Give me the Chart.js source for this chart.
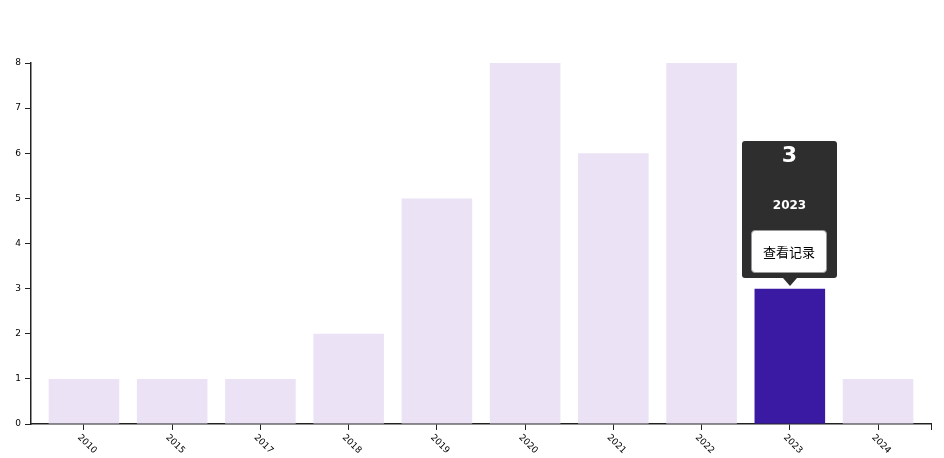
<!DOCTYPE html>
<html>
<head>
<meta charset="utf-8">
<script src="https://cdn.jsdelivr.net/npm/chart.js@4.4.0/dist/chart.umd.min.js"></script>
<style>
  body { margin: 0; background: #fff; }
  .wrap { position: relative; width: 944px; height: 458px; }
  .tip {
    position: absolute; width: 95px; height: 137px; background: #2e2e2e; border-radius: 3px;
    color: #fff; text-align: center; font-family: "DejaVu Sans", "Noto Sans CJK SC", sans-serif;
  }
  .tip .val { position: absolute; left: 0; right: 0; top: 0; font-size: 22px; font-weight: bold; line-height: 28px; }
  .tip .year { position: absolute; left: 0; right: 0; top: 57px; font-size: 12px; font-weight: bold; }
  .tip .btn {
    position: absolute; left: 9px; top: 89px; width: 74px; height: 41px; background: #fff;
    border: 1px solid #999; border-radius: 4px; color: #000; font-size: 13px; line-height: 41px;
    font-family: "Noto Sans CJK SC", sans-serif;
  }
  .tip:after {
    content: ""; position: absolute; left: 50%; bottom: -8px; margin-left: -7px;
    border-left: 7px solid transparent; border-right: 7px solid transparent; border-top: 8px solid #2e2e2e;
  }
</style>
</head>
<body>
<div class="wrap">
  <canvas id="myGraph" width="944" height="458"></canvas>
  <div class="tip" id="tip"><div class="val" id="tipVal"></div><div class="year" id="tipYear"></div><div class="btn">查看记录</div></div>
</div>
<script>
const years = ["2010", "2015", "2017", "2018", "2019", "2020", "2021", "2022", "2023", "2024"];
const counts = [1, 1, 1, 2, 5, 8, 6, 8, 3, 1];
const selectedYear = "2023";

const lightColor = "#ebe3f5";
const darkColor = "#3b1aa3";

const barColors = years.map(y => y === selectedYear ? darkColor : lightColor);
// band-style padding: 0.2 step inner and outer
const bandPad = 0.2;
const points = counts.map((c, i) => ({ x: i, y: c }));

// x labels go down-right from the tick, so draw them by hand
const xLabels = {
  id: "xLabels",
  afterDraw(chart) {
    const ctx = chart.ctx;
    const xs = chart.scales.x;
    const bottom = chart.chartArea.bottom;
    ctx.save();
    ctx.font = "9px 'DejaVu Sans', sans-serif";
    ctx.fillStyle = "#000";
    ctx.textAlign = "left";
    ctx.textBaseline = "middle";
    years.forEach((y, i) => {
      const x = xs.getPixelForValue(i);
      ctx.save();
      ctx.translate(x - 5, bottom + 12);
      ctx.rotate(Math.PI / 4);
      ctx.fillText(y, 0, 0);
      ctx.restore();
    });
    // outer tick at the right end of the domain
    ctx.strokeStyle = "#222";
    ctx.lineWidth = 1;
    ctx.beginPath();
    ctx.moveTo(chart.chartArea.right + 0.5, bottom);
    ctx.lineTo(chart.chartArea.right + 0.5, bottom + 6);
    ctx.stroke();
    ctx.restore();
  },
  afterRender(chart) {
    const idx = years.indexOf(selectedYear);
    const bar = chart.getDatasetMeta(0).data[idx];
    const tip = document.getElementById("tip");
    document.getElementById("tipVal").textContent = counts[idx];
    document.getElementById("tipYear").textContent = selectedYear;
    tip.style.left = Math.round(bar.x - 47.5) + "px";
    tip.style.top = Math.round(bar.y - 148) + "px";
  }
};

new Chart(document.getElementById("myGraph"), {
  type: "bar",
  data: {
    datasets: [{
      data: points,
      backgroundColor: barColors,
      hoverBackgroundColor: barColors,
      barPercentage: 1 - bandPad,
      categoryPercentage: 1
    }]
  },
  options: {
    responsive: false,
    animation: false,
    events: [],
    layout: { padding: { top: 63, right: 13, left: 0, bottom: 0 } },
    plugins: { legend: { display: false }, tooltip: { enabled: false } },
    scales: {
      x: {
        type: "linear",
        offset: false,
        min: -(0.5 + bandPad / 2),
        max: years.length - 1 + 0.5 + bandPad / 2,
        afterFit: (s) => { s.height = 34; },
        afterBuildTicks: (s) => { s.ticks = years.map((y, i) => ({ value: i })); },
        grid: { offset: false, drawOnChartArea: false, drawTicks: true, tickLength: 6, color: "#222" },
        border: { color: "#222", width: 1.5 },
        ticks: { color: "rgba(0,0,0,0)", maxRotation: 0, autoSkip: false, font: { size: 9 } }
      },
      y: {
        min: 0,
        max: 8,
        afterFit: (s) => { s.width = 31; },
        grid: { drawOnChartArea: false, drawTicks: true, tickLength: 6, color: "#222" },
        border: { color: "#222", width: 1.5 },
        ticks: { stepSize: 1, color: "#000", padding: 4, font: { family: "'DejaVu Sans', sans-serif", size: 9 } }
      }
    }
  },
  plugins: [xLabels]
});
</script>
</body>
</html>
